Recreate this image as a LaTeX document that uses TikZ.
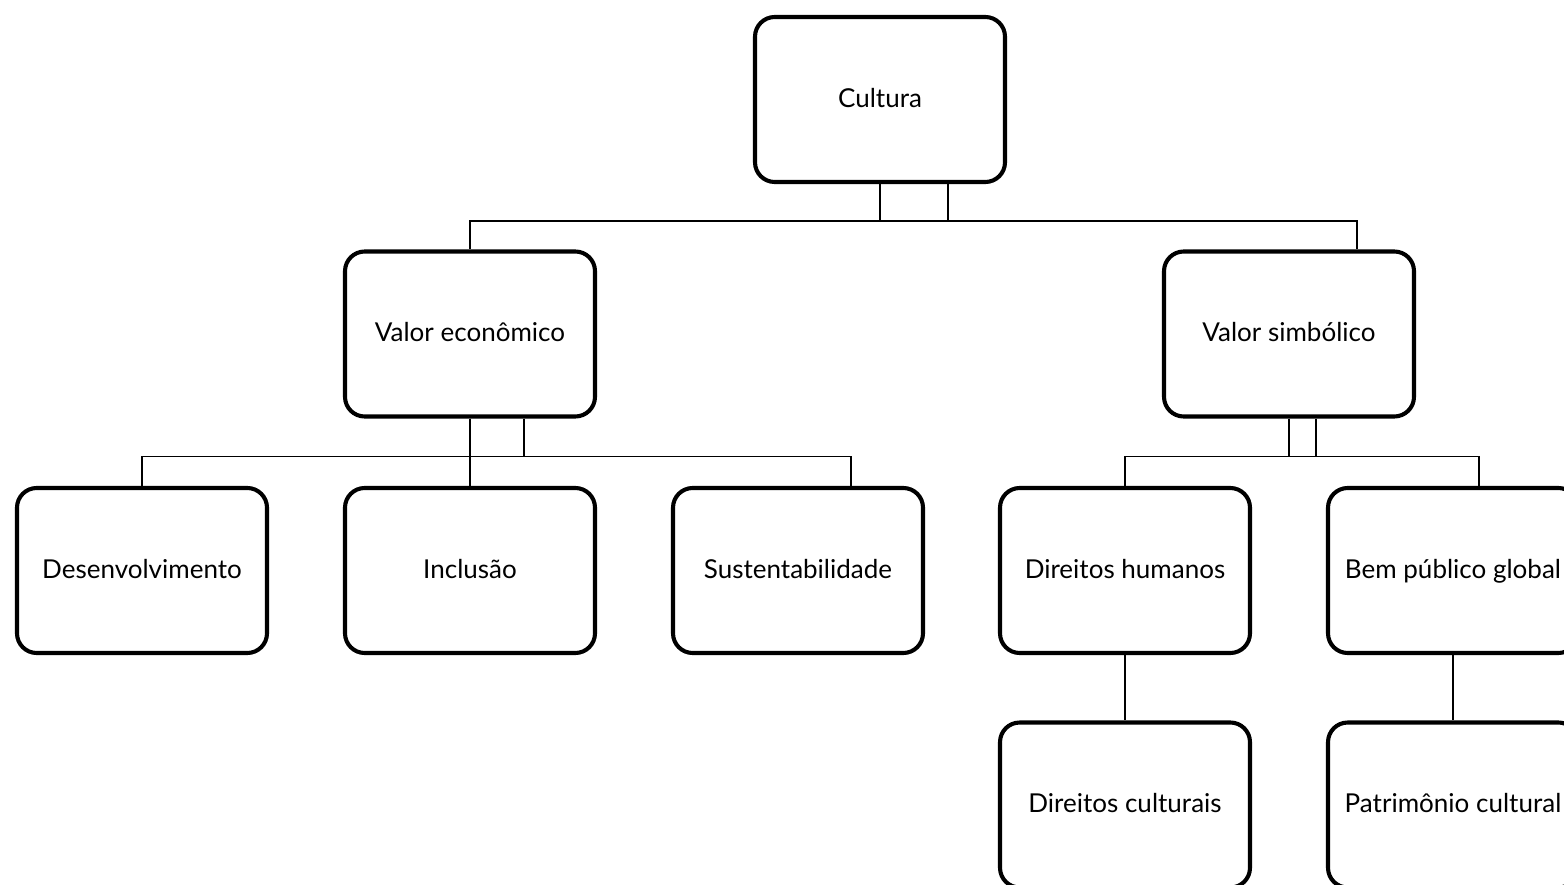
\documentclass[tikz,border=0pt]{standalone}
\usepackage{fontspec}
\setmainfont{Lato}
\usepackage{tikz}
\usetikzlibrary{calc}

\begin{document}
\begin{tikzpicture}[x=0.025cm, y=-0.025cm,
	caixa/.style={rectangle, rounded corners=14pt, draw=black, line width=2.9pt,
		minimum width=250*0.025cm, minimum height=165*0.025cm,
		text height=13.7pt, text depth=3pt,
		font=\fontsize{18.5}{22}\selectfont},
	liga/.style={line width=1.3pt}]
				\clip (0,0) rectangle (1564,885);
				\node[caixa] (cultura) at(880,99.5){Cultura};
				\node[caixa] (econ) at(470,334){Valor econômico};
				\node[caixa] (simb) at(1289,334){Valor simbólico};
				\node[caixa] (desenv) at(142,570.5){Desenvolvimento};
				\node[caixa] (incl) at(470,570.5){Inclusão};
				\node[caixa] (sust) at(798,570.5){Sustentabilidade};
				\node[caixa] (dirhum) at(1125,570.5){Direitos humanos};
				\node[caixa] (bem) at(1453,570.5){Bem público global};
				\node[caixa] (dircult) at(1125,805){Direitos culturais};
				\node[caixa] (patr) at(1453,805){Patrimônio cultural};
				% Cultura
				\draw[liga] (cultura.south) -- ++(0,37) -| (econ.north);
				\draw[liga] (cultura.south) -- ++(0,37) -| ($(simb.north)+(68,0)$);
				\draw[liga] ($(cultura.south)+(68,0)$) -- ++(0,37);
				% Valor economico
				\draw[liga] (econ.south) -- (incl.north);
				\draw[liga] (econ.south) -- ++(0,38) -| (desenv.north);
				\draw[liga] (econ.south) -- ++(0,38) -| ($(sust.north)+(53,0)$);
				\draw[liga] ($(econ.south)+(54,0)$) -- ++(0,38);
				% Valor simbolico
				\draw[liga] (simb.south) -- ++(0,38) -| (dirhum.north);
				\draw[liga] (simb.south) -- ++(0,38) -| ($(bem.north)+(26,0)$);
				\draw[liga] ($(simb.south)+(27,0)$) -- ++(0,38);
				\draw[liga] (dirhum.south) -- (dircult.north);
				\draw[liga] (bem.south) -- (patr.north);
			\end{tikzpicture}
\end{document}
